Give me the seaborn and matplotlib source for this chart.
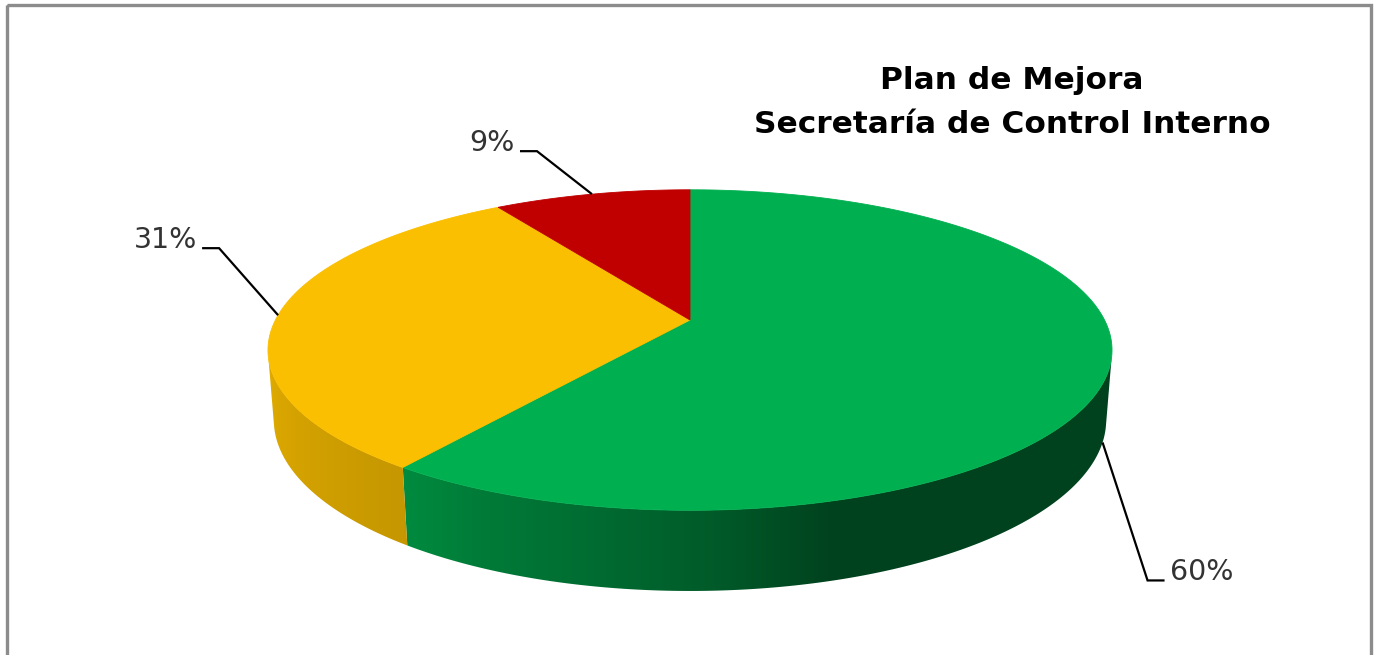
import numpy as np
import matplotlib
matplotlib.use("Agg")
import matplotlib.pyplot as plt
from matplotlib.patches import Polygon, Rectangle
import seaborn as sns

# ---- data -------------------------------------------------------------
shares = [60, 31, 9]                      # percent of actions, clockwise from 12 o'clock
share_labels = ["60%", "31%", "9%"]
title_lines = ["Plan de Mejora", "Secretaría de Control Interno"]

# ---- style ------------------------------------------------------------
palette = ["#00B050", "#FABF00", "#C00000"]
sns.set_theme(style="white")
plt.rcParams["font.family"] = ["DejaVu Sans"]

W, H_PX = 1376, 655
fig = plt.figure(figsize=(W / 100, H_PX / 100), dpi=100)
ax = fig.add_axes([0, 0, 1, 1])
ax.set_xlim(0, W)
ax.set_ylim(H_PX, 0)
ax.set_axis_off()

# chart frame
ax.add_patch(Rectangle((7, 5), 1364, 700, fill=False, edgecolor="#8C8C8C", lw=2.4))

# ---- perspective camera for the 3-D disc ------------------------------
CX, CY = 690.0, 320.0        # screen position of the disc centre (top face)
FOCAL, DIST = 2052.0, 4.95   # focal length (px) and camera distance (radii)
PHI = np.radians(21.9)       # camera elevation
THICK = 0.18                 # disc thickness (radii)


def project(theta, z):
    u, v = np.sin(theta), np.cos(theta)
    depth = DIST + v * np.cos(PHI) - z * np.sin(PHI)
    x = CX + FOCAL * u / depth
    y = CY - FOCAL * (v * np.sin(PHI) + z * np.cos(PHI)) / depth
    return x, y


# side wall is visible where its normal faces the camera
c_lim = -1.0 / (DIST * np.cos(PHI))
vis_lo = np.arccos(c_lim)
vis_hi = 2 * np.pi - vis_lo

# lighting on the side wall as a function of angle (degrees)
shade_deg = [100, 164, 178, 192, 205, 216, 260]
shade_val = [0.38, 0.38, 0.52, 0.62, 0.70, 0.79, 0.90]

# screen x -> wall angle along the visible front rim (x decreases with angle)
rim_t = np.linspace(vis_lo, vis_hi, 600)
rim_x, _ = project(rim_t, -THICK / 2)

total = float(sum(shares))
edges = np.concatenate([[0.0], np.cumsum(shares)]) / total * 2 * np.pi

# ---- side walls (gradient image clipped to each wall outline) ---------
for k, (t0, t1) in enumerate(zip(edges[:-1], edges[1:])):
    a, b = max(t0, vis_lo), min(t1, vis_hi)
    if b <= a:
        continue
    ts = np.linspace(a, b, 300)
    xt, yt = project(ts, 0)
    xb, yb = project(ts[::-1], -THICK)
    outline = np.column_stack([np.concatenate([xt, xb]), np.concatenate([yt, yb])])
    wall = Polygon(outline, closed=True, facecolor="none", edgecolor="none")
    ax.add_patch(wall)

    x0, x1 = outline[:, 0].min() - 2, outline[:, 0].max() + 2
    y0, y1 = outline[:, 1].min() - 2, outline[:, 1].max() + 2
    cols_x = np.linspace(x0, x1, 800)
    theta_x = np.interp(cols_x, rim_x[::-1], rim_t[::-1])
    f = np.interp(np.degrees(theta_x), shade_deg, shade_val)
    base = np.array(matplotlib.colors.to_rgb(palette[k]))
    img = np.clip(f[None, :, None] * base[None, None, :], 0, 1)
    img = np.repeat(img, 2, axis=0)
    im = ax.imshow(img, extent=(x0, x1, y1, y0), aspect="auto",
                   interpolation="bilinear", zorder=1)
    im.set_clip_path(wall)

# ---- top faces --------------------------------------------------------
for k, (t0, t1) in enumerate(zip(edges[:-1], edges[1:])):
    ts = np.linspace(t0, t1, 200)
    xs, ys = project(ts, 0)
    pts = [(CX, CY)] + list(zip(xs, ys))
    ax.add_patch(Polygon(pts, closed=True, facecolor=palette[k],
                         edgecolor=palette[k], lw=0.6, zorder=2))

# keep the pixel frame after imshow
ax.set_xlim(0, W)
ax.set_ylim(H_PX, 0)

# ---- data labels with leader lines ------------------------------------
elbow_offsets = [(45, 138), (-59, -67), (-55, -43)]
tail = 17
for k, (t0, t1) in enumerate(zip(edges[:-1], edges[1:])):
    tm = 0.5 * (t0 + t1)
    z = -THICK if vis_lo < tm < vis_hi else 0.0
    ax0, ay0 = project(tm, z)
    ex, ey = ax0 + elbow_offsets[k][0], ay0 + elbow_offsets[k][1]
    side = 1 if ex > ax0 else -1
    tx = ex + side * tail
    ax.plot([ax0, ex, tx], [ay0, ey, ey], color="black", lw=1.6,
            solid_capstyle="butt", solid_joinstyle="miter", zorder=3)
    ax.text(tx + side * 5, ey, share_labels[k], fontsize=20.5,
            color="#333333", ha="left" if side > 0 else "right",
            va="baseline", zorder=3)

# ---- title ------------------------------------------------------------
for line, base_y in zip(title_lines, [89, 133]):
    ax.text(1012, base_y, line, fontsize=22.5, fontweight="bold",
            ha="center", va="baseline", color="black", zorder=3)

fig.savefig("out.png", dpi=100, facecolor="white")
